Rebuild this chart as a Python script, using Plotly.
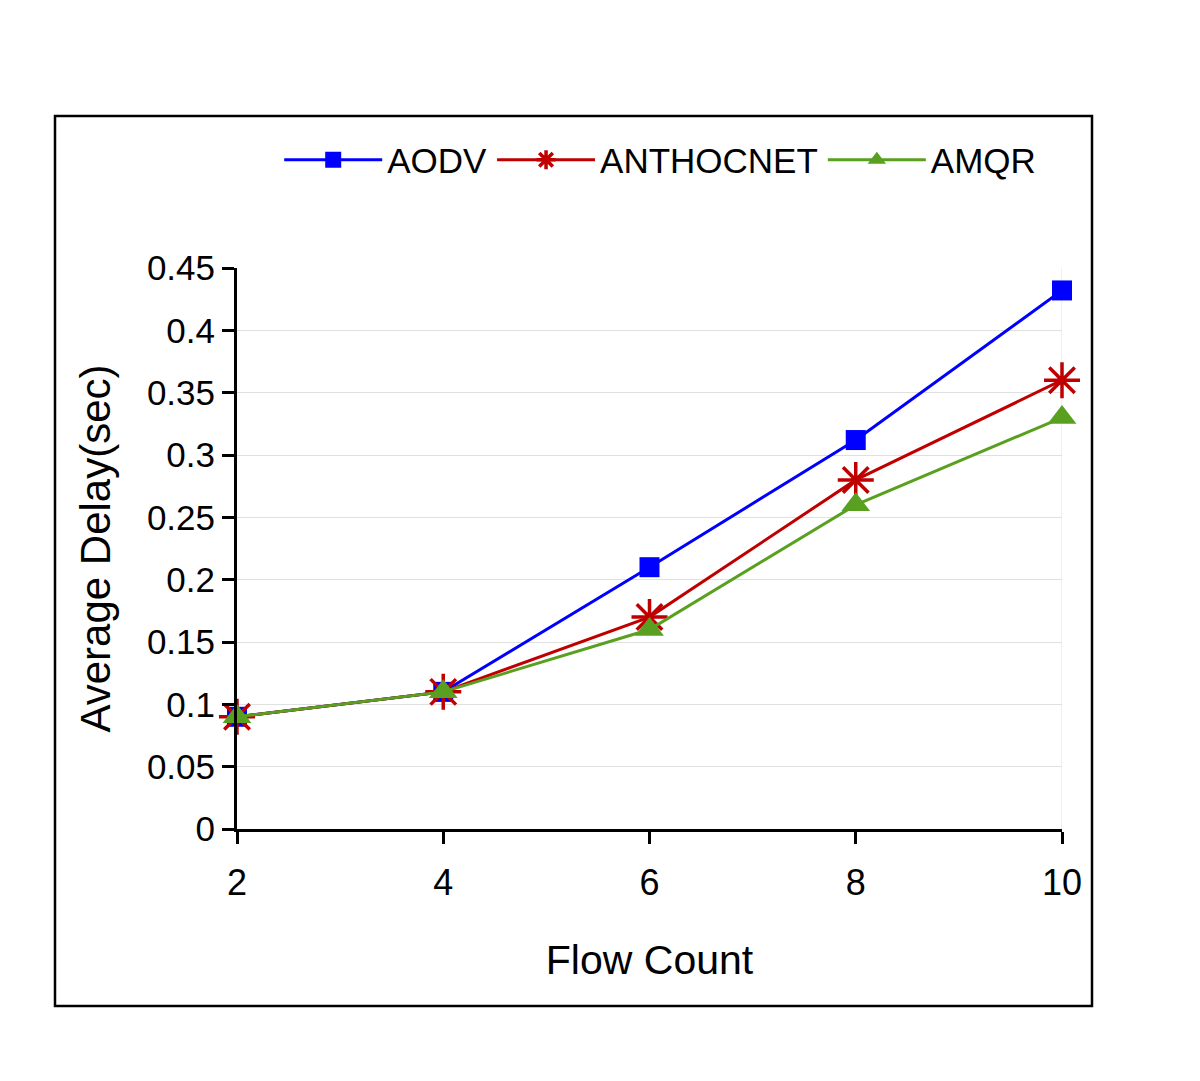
import plotly.graph_objects as go

flow_count = [2, 4, 6, 8, 10]
aodv = [0.09, 0.11, 0.21, 0.312, 0.432]
anthocnet = [0.09, 0.11, 0.17, 0.28, 0.36]
amqr = [0.09, 0.11, 0.16, 0.26, 0.33]
y_ticks = [0, 0.05, 0.1, 0.15, 0.2, 0.25, 0.3, 0.35, 0.4, 0.45]
y_labels = ["0", "0.05", "0.1", "0.15", "0.2", "0.25", "0.3", "0.35", "0.4", "0.45"]
x_ticks = [2, 4, 6, 8, 10]

font = "Liberation Sans, Arial, sans-serif"

fig = go.Figure()
fig.add_trace(go.Scatter(x=flow_count, y=aodv, name="AODV", mode="lines+markers",
                         cliponaxis=False,
                         line=dict(color="#0000FF", width=3),
                         marker=dict(symbol="square", size=20, color="#0000FF")))
fig.add_trace(go.Scatter(x=flow_count, y=anthocnet, name="ANTHOCNET", mode="lines+markers",
                         cliponaxis=False,
                         line=dict(color="#C00000", width=3),
                         marker=dict(symbol="asterisk-open", size=30,
                                     line=dict(color="#C00000", width=3.5))))
fig.add_trace(go.Scatter(x=flow_count, y=amqr, name="AMQR", mode="lines+markers",
                         cliponaxis=False,
                         line=dict(color="#59A020", width=3),
                         marker=dict(symbol="triangle-up", size=25, color="#59A020")))

# page is offset by ~8px, so plot area placed at reference minus 8
L, R, T, B = 229, 1054, 260, 821
W, H = 1200, 1081
pw, ph = R - L, B - T

fig.update_layout(
    width=W, height=H,
    paper_bgcolor="white", plot_bgcolor="white",
    margin=dict(l=L, r=W - R, t=T, b=H - B),
    font=dict(family=font, size=34, color="black"),
    showlegend=True,
    legend=dict(orientation="h", xref="container", yref="container",
                x=0.226, y=1 - 152 / H, xanchor="left", yanchor="middle",
                font=dict(size=35), itemwidth=98, bgcolor="rgba(0,0,0,0)"),
    xaxis=dict(range=[2, 10], tickvals=x_ticks, ticks="outside", ticklen=12,
               tickwidth=3, tickcolor="black", showline=True, linecolor="black",
               linewidth=3, showgrid=False, zeroline=False,
               tickfont=dict(size=36), ticklabelstandoff=8,
               title=dict(text="Flow Count", font=dict(size=41), standoff=44)),
    yaxis=dict(range=[0, 0.45], tickvals=y_ticks, ticktext=y_labels, ticks="outside",
               ticklen=12, tickwidth=3, tickcolor="black", showline=True,
               linecolor="black", linewidth=3, showgrid=True, gridcolor="#E0E0E0",
               gridwidth=1, zeroline=False, tickfont=dict(size=35),
               title=dict(text="Average Delay(sec)", font=dict(size=42), standoff=24)),
    shapes=[
        dict(type="line", xref="x", yref="y", x0=10, x1=10, y0=0, y1=0.45,
             line=dict(color="#E0E0E0", width=1), layer="below"),
        dict(type="rect", xref="paper", yref="paper",
             x0=(47 - L) / pw, x1=(1084 - L) / pw,
             y0=(B - 998) / ph, y1=(B - 108) / ph,
             line=dict(color="black", width=2.5)),
    ],
)

fig.write_html("out.html")
